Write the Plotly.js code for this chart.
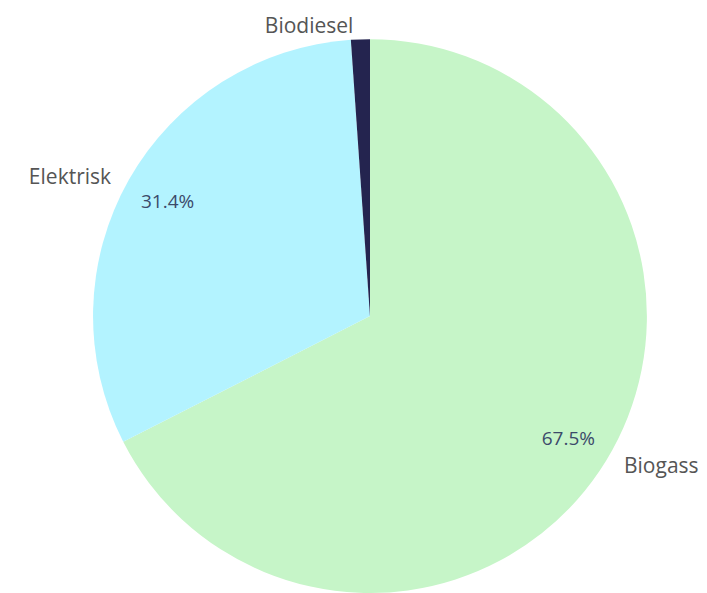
<!DOCTYPE html>
<html><head><meta charset="utf-8">
<script src="https://cdn.plot.ly/plotly-3.0.1.min.js"></script>
<style>html,body{margin:0;padding:0;background:#fff}#chart{width:707px;height:593px}</style>
</head><body><div id="chart"></div>
<script>
const labels = ["Biogass", "Elektrisk", "Biodiesel"];
const values = [67.5, 31.4, 1.1];
const colors = ["#c6f5c8", "#b3f3ff", "#24244f"];

const domain = {x: [0.1315, 0.9151], y: [0, 0.934]};
const fontFam = "Open Sans, Noto Sans, sans-serif";
const NB = "\u00a0\u00a0";

const base = {
  type: "pie", labels: labels, values: values, sort: false,
  direction: "clockwise", rotation: 0, domain: domain, showlegend: false,
  hoverinfo: "skip"
};

const traces = [
  Object.assign({}, base, {
    marker: {colors: colors, line: {width: 0}},
    textinfo: "none"
  }),
  Object.assign({}, base, {
    hole: 0.68,
    marker: {colors: ["rgba(0,0,0,0)","rgba(0,0,0,0)","rgba(0,0,0,0)"], line: {width: 0}},
    textinfo: "percent", textposition: "inside", insidetextorientation: "horizontal",
    textfont: {family: fontFam, size: 19, color: "#3c4a6a"}
  }),
  Object.assign({}, base, {
    marker: {colors: ["rgba(0,0,0,0)","rgba(0,0,0,0)","rgba(0,0,0,0)"], line: {width: 0}},
    textinfo: "label", textposition: "outside",
    texttemplate: [NB + "%{label}", "%{label}" + NB, "%{label}"],
    outsidetextfont: {family: fontFam, size: 21, color: "#555555"}
  })
];

const layout = {
  width: 707, height: 593,
  margin: {l: 0, r: 0, t: 0, b: 0},
  paper_bgcolor: "#ffffff",
  uniformtext: {minsize: 10, mode: "hide"}
};
Plotly.newPlot("chart", traces, layout, {displayModeBar: false, staticPlot: true});
</script></body></html>
